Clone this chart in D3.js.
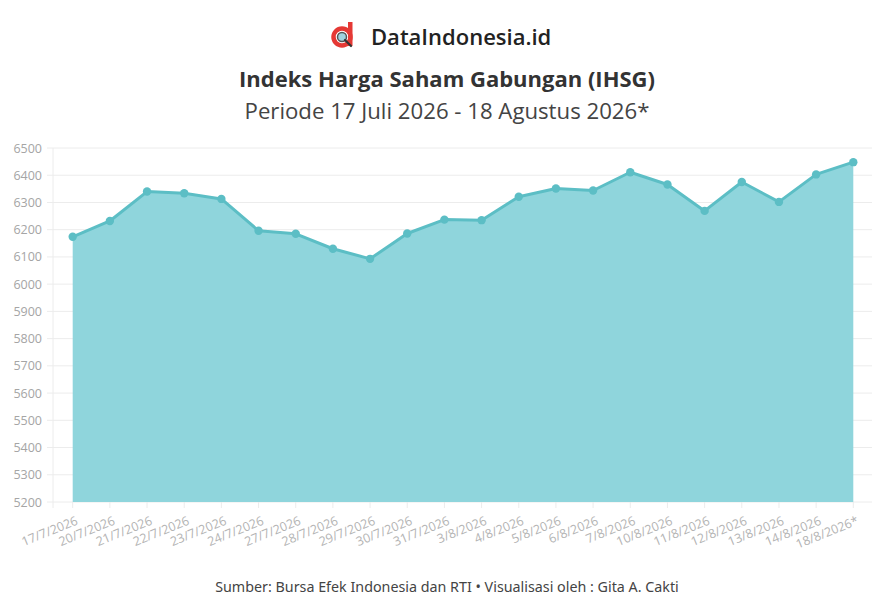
<!DOCTYPE html>
<html>
<head>
<meta charset="utf-8">
<script src="https://cdn.jsdelivr.net/npm/d3@7"></script>
<style>
  body { margin: 0; background: #fff; }
  svg { display: block; }
</style>
</head>
<body>
<div id="chart"></div>
<script>
// data
const dates = ["17/7/2026","20/7/2026","21/7/2026","22/7/2026","23/7/2026","24/7/2026","27/7/2026",
  "28/7/2026","29/7/2026","30/7/2026","31/7/2026","3/8/2026","4/8/2026","5/8/2026","6/8/2026",
  "7/8/2026","10/8/2026","11/8/2026","12/8/2026","13/8/2026","14/8/2026","18/8/2026*"];
const ihsg = [6174, 6232, 6340, 6334, 6313, 6196, 6185, 6130, 6093, 6186, 6237,
  6235, 6321, 6351, 6344, 6411, 6366, 6269, 6375, 6302, 6403, 6448];
const yTicks = [5200,5300,5400,5500,5600,5700,5800,5900,6000,6100,6200,6300,6400,6500];

const W = 894, H = 600;
const plot = {left: 53, right: 872, top: 148, bottom: 502};

const svg = d3.select("#chart").append("svg")
  .attr("width", W).attr("height", H);

// header
const logo = svg.append("g").attr("transform", "translate(342,37)");
logo.append("circle").attr("r", 8.5).attr("fill", "none")
  .attr("stroke", "#e53935").attr("stroke-width", 4.5);
logo.append("rect").attr("x", 6).attr("y", -15).attr("width", 4.5).attr("height", 24)
  .attr("fill", "#e53935");
logo.append("circle").attr("r", 4.5).attr("fill", "#9fd3e0")
  .attr("stroke", "#555").attr("stroke-width", 1.5);
logo.append("line").attr("x1", 3).attr("y1", 3).attr("x2", 9).attr("y2", 9)
  .attr("stroke", "#333").attr("stroke-width", 2.2).attr("stroke-linecap", "round");

svg.append("text").attr("x", 371).attr("y", 45)
  .style("font-family", "'Open Sans', sans-serif").style("font-size", "22px")
  .style("font-weight", "600").attr("fill", "#222")
  .text("DataIndonesia.id");

svg.append("text").attr("x", W / 2).attr("y", 87).attr("text-anchor", "middle")
  .style("font-family", "'Open Sans', sans-serif").style("font-size", "22px")
  .style("font-weight", "700").attr("fill", "#333")
  .text("Indeks Harga Saham Gabungan (IHSG)");

svg.append("text").attr("x", W / 2).attr("y", 119).attr("text-anchor", "middle")
  .style("font-family", "'Open Sans', sans-serif").style("font-size", "22.2px")
  .attr("fill", "#444")
  .text("Periode 17 Juli 2026 - 18 Agustus 2026*");

// scales
const x = d3.scalePoint().domain(dates).range([72.7, 853.3]);
const y = d3.scaleLinear().domain([5200, 6500]).range([plot.bottom, plot.top]);

// grid
svg.append("g").selectAll("line").data(yTicks).enter().append("line")
  .attr("x1", plot.left - 6).attr("x2", plot.right)
  .attr("y1", d => y(d)).attr("y2", d => y(d))
  .attr("stroke", "#ececec").attr("stroke-width", 1);

svg.append("line")
  .attr("x1", plot.left).attr("x2", plot.left)
  .attr("y1", plot.top).attr("y2", plot.bottom + 6)
  .attr("stroke", "#ececec");

// y labels
svg.append("g").selectAll("text").data(yTicks).enter().append("text")
  .attr("x", 42).attr("y", d => y(d) + 4.5).attr("text-anchor", "end")
  .style("font-family", "'Open Sans', sans-serif").style("font-size", "12.5px")
  .attr("fill", "#a5a5a5").text(d => d);

// x ticks
svg.append("g").selectAll("line").data(dates).enter().append("line")
  .attr("x1", d => x(d)).attr("x2", d => x(d))
  .attr("y1", plot.bottom).attr("y2", plot.bottom + 6)
  .attr("stroke", "#ececec");

// area + line
const area = d3.area()
  .x((d, i) => x(dates[i])).y0(y(5200)).y1(d => y(d));
const line = d3.line()
  .x((d, i) => x(dates[i])).y(d => y(d));

svg.append("path").datum(ihsg).attr("d", area)
  .attr("fill", "#8fd5dc");
svg.append("path").datum(ihsg).attr("d", line)
  .attr("fill", "none").attr("stroke", "#5cbec5").attr("stroke-width", 3)
  .attr("stroke-linejoin", "round");

svg.append("g").selectAll("circle").data(ihsg).enter().append("circle")
  .attr("cx", (d, i) => x(dates[i])).attr("cy", d => y(d)).attr("r", 4.2)
  .attr("fill", "#5cbec5");

// x labels
svg.append("g").selectAll("text").data(dates).enter().append("text")
  .attr("transform", d => `translate(${x(d) + 6},${plot.bottom + 22}) rotate(-22)`)
  .attr("text-anchor", "end")
  .style("font-family", "'Open Sans', sans-serif").style("font-size", "12.5px")
  .attr("fill", "#b3b3b3").text(d => d);

// footer
svg.append("text").attr("x", W / 2).attr("y", 592).attr("text-anchor", "middle")
  .style("font-family", "'Noto Sans', sans-serif").style("font-size", "14.3px")
  .attr("fill", "#444")
  .text("Sumber: Bursa Efek Indonesia dan RTI \u2022 Visualisasi oleh : Gita A. Cakti");
</script>
</body>
</html>
